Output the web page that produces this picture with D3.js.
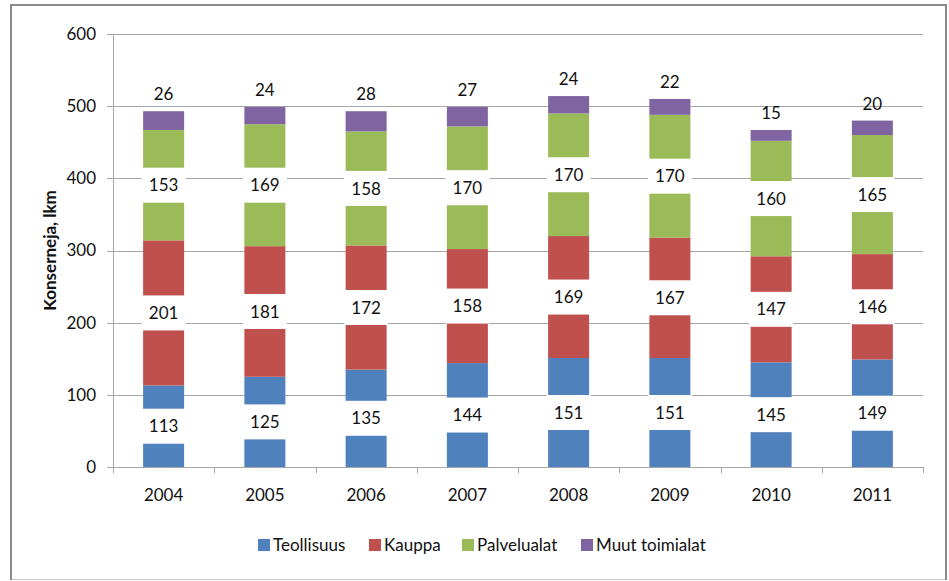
<!DOCTYPE html>
<html>
<head>
	<meta charset="utf-8">
	<title>Konsernit toimialoittain</title>
	<script src="https://d3js.org/d3.v7.min.js"></script>
	<style>
		body { margin: 0; background: #fff; }
		text { font-family: Lato, "Open Sans", sans-serif; fill: #111; }
	</style>
</head>
<body>
<div id="chart"></div>
<script type="text/javascript">

	// data
	var years = ["2004", "2005", "2006", "2007", "2008", "2009", "2010", "2011"];
	var seriesNames = ["Teollisuus", "Kauppa", "Palvelualat", "Muut toimialat"];
	var teollisuus = [113, 125, 135, 144, 151, 151, 145, 149];
	var kauppa = [201, 181, 172, 158, 169, 167, 147, 146];
	var palvelualat = [153, 169, 158, 170, 170, 170, 160, 165];
	var muut = [26, 24, 28, 27, 24, 22, 15, 20];
	var yTicks = [0, 100, 200, 300, 400, 500, 600];
	var colors = ["#4F81BD", "#C0504D", "#9BBB59", "#8064A2"];

	var W = 949, H = 581;
	var plot = {left: 113, right: 923, top: 34, bottom: 467};

	var svg = d3.select("#chart").append("svg")
		.attr("width", W)
		.attr("height", H);

	// outer frame
	svg.append("line").attr("x1", 10).attr("x2", 947).attr("y1", 579.5).attr("y2", 579.5)
		.style("stroke", "#c8c8c8").style("stroke-width", 1);
	svg.append("path").attr("d", "M11,580 V5 H946 V580")
		.style("fill", "none").style("stroke", "#8a8a8a").style("stroke-width", 2);

	// build rows for stacking
	var rows = years.map(function(y, i) {
		return {year: y, s0: teollisuus[i], s1: kauppa[i], s2: palvelualat[i], s3: muut[i]};
	});
	var stack = d3.stack().keys(["s0", "s1", "s2", "s3"]);
	var layers = stack(rows);

	var x = d3.scaleBand().domain(years).range([plot.left, plot.right])
		.paddingInner(0.595).paddingOuter(0.2975);
	var xTicks = d3.scaleBand().domain(years).range([plot.left, plot.right]).padding(0);
	var y = d3.scaleLinear().domain([0, 600]).range([plot.bottom, plot.top]);

	// gridlines + y ticks
	var grid = svg.append("g");
	grid.selectAll("line").data(yTicks).enter().append("line")
		.attr("x1", plot.left - 6).attr("x2", plot.right)
		.attr("y1", function(d) { return Math.round(y(d)) + 0.5; })
		.attr("y2", function(d) { return Math.round(y(d)) + 0.5; })
		.style("stroke", "#a6a6a6").style("stroke-width", 1);

	grid.selectAll("text").data(yTicks).enter().append("text")
		.attr("x", 96)
		.attr("y", function(d) { return y(d); })
		.attr("dy", "0.35em")
		.attr("text-anchor", "end")
		.style("font-size", "17px")
		.text(function(d) { return d; });

	// axes lines
	svg.append("line").attr("x1", plot.left + 0.5).attr("x2", plot.left + 0.5)
		.attr("y1", plot.top).attr("y2", plot.bottom)
		.style("stroke", "#a6a6a6");
	var xt = years.map(function(d) { return xTicks(d); }).concat([plot.right]);
	svg.append("g").selectAll("line").data(xt).enter().append("line")
		.attr("x1", function(d) { return Math.round(d) + 0.5; })
		.attr("x2", function(d) { return Math.round(d) + 0.5; })
		.attr("y1", plot.bottom).attr("y2", plot.bottom + 6)
		.style("stroke", "#a6a6a6");

	svg.append("g").selectAll("text").data(years).enter().append("text")
		.attr("x", function(d) { return x(d) + x.bandwidth() / 2; })
		.attr("y", 501)
		.attr("text-anchor", "middle")
		.style("font-size", "17px")
		.text(function(d) { return d; });

	// y title
	svg.append("text")
		.attr("transform", "translate(56," + ((plot.top + plot.bottom) / 2) + ") rotate(-90)")
		.attr("text-anchor", "middle")
		.style("font-size", "17px")
		.style("font-weight", "bold")
		.text("Konserneja, lkm");

	// bars
	var bars = svg.append("g");
	layers.forEach(function(layer, k) {
		bars.selectAll(".b" + k).data(layer).enter().append("rect")
			.attr("class", "b" + k)
			.attr("x", function(d) { return x(d.data.year); })
			.attr("width", x.bandwidth())
			.attr("y", function(d) { return y(d[1]); })
			.attr("height", function(d) { return y(d[0]) - y(d[1]); })
			.style("fill", colors[k]);
	});

	// data labels with white boxes (inner segments)
	var labels = svg.append("g");
	layers.slice(0, 3).forEach(function(layer, k) {
		var g = labels.selectAll(".l" + k).data(layer).enter().append("g")
			.attr("class", "l" + k)
			.attr("transform", function(d) {
				return "translate(" + (x(d.data.year) + x.bandwidth() / 2) + "," + y((d[0] + d[1]) / 2) + ")";
			});
		g.append("rect")
			.attr("x", -x.bandwidth() / 2 - 1.5)
			.attr("width", x.bandwidth() + 3)
			.attr("y", -17.5)
			.attr("height", 35)
			.style("fill", "#fff");
		g.append("text")
			.attr("text-anchor", "middle")
			.attr("dy", "0.36em")
			.style("font-size", "17px")
			.text(function(d) { return d[1] - d[0]; });
	});

	// top labels (Muut toimialat) sit above the bar
	labels.selectAll(".l3").data(layers[3]).enter().append("text")
		.attr("class", "l3")
		.attr("x", function(d) { return x(d.data.year) + x.bandwidth() / 2; })
		.attr("y", function(d) { return y(d[1]) - 17; })
		.attr("dy", "0.36em")
		.attr("text-anchor", "middle")
		.style("font-size", "17px")
		.text(function(d) { return d[1] - d[0]; });

	// legend
	var legendX = [258, 369, 462, 581];
	var legend = svg.append("g").selectAll("g").data(seriesNames).enter().append("g")
		.attr("transform", function(d, i) { return "translate(" + legendX[i] + ",545)"; });
	legend.append("rect")
		.attr("x", 0).attr("y", -6).attr("width", 12).attr("height", 12)
		.style("fill", function(d, i) { return colors[i]; });
	legend.append("text")
		.attr("x", 15)
		.attr("dy", "0.36em")
		.style("font-size", "17px")
		.text(function(d) { return d; });

</script>
</body>
</html>
